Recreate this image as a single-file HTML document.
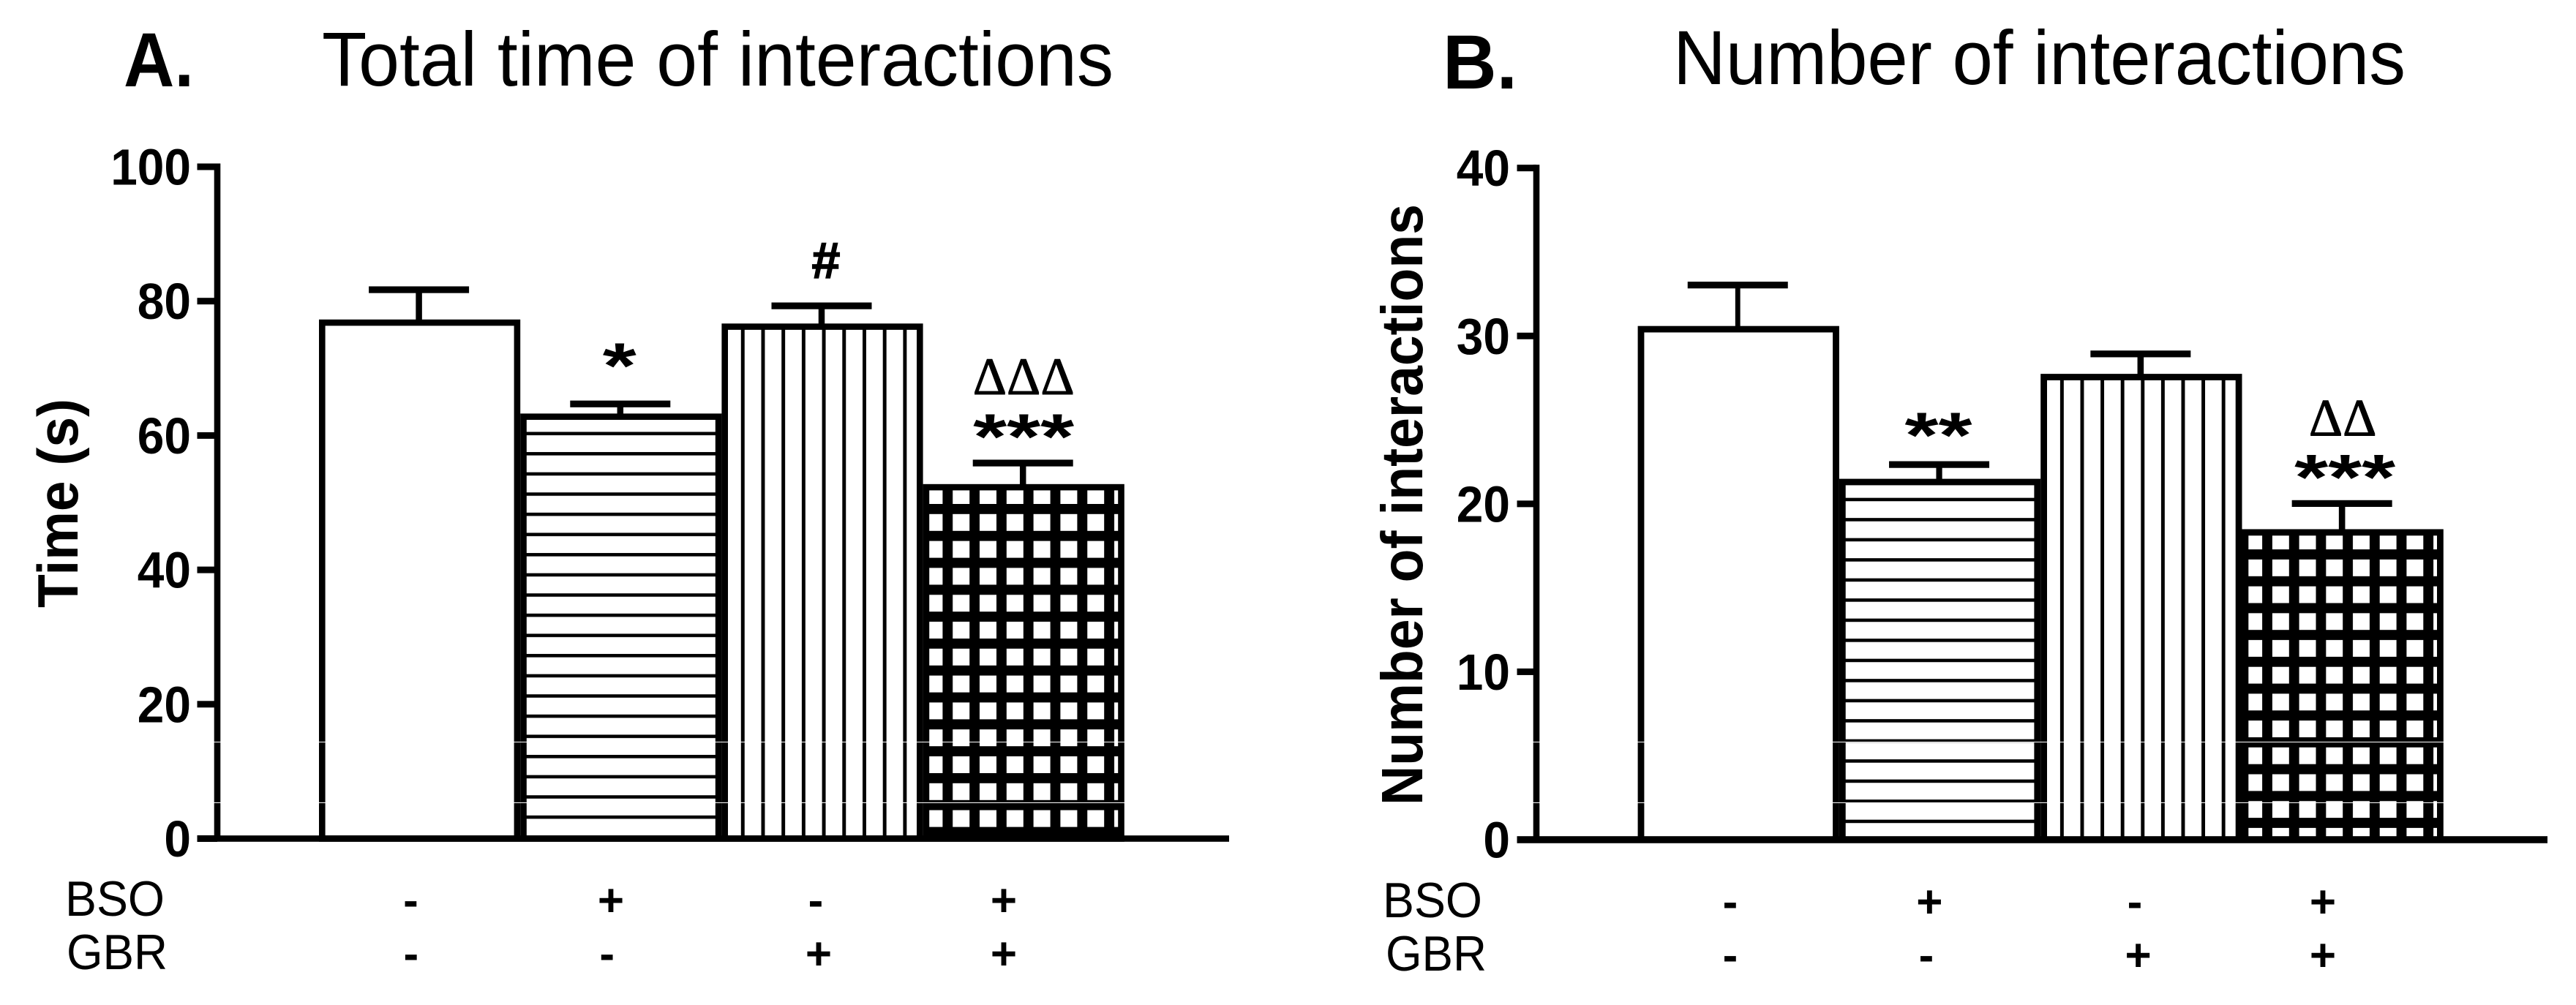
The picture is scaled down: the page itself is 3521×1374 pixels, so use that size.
<!DOCTYPE html>
<html lang="en">
<head>
<meta charset="utf-8">
<title>Total time and number of interactions</title>
<style>
html,body{margin:0;padding:0;background:#fff;width:3521px;height:1374px;overflow:hidden}
svg{display:block;position:absolute;left:0;top:0}
text{font-family:"Liberation Sans",sans-serif;fill:#000}
.b{font-weight:700}
.delta{font-family:"Liberation Serif",serif;stroke:#000;stroke-width:1}
.hash{stroke:#000;stroke-width:1.5}
</style>
</head>
<body>
<svg id="figure" xmlns="http://www.w3.org/2000/svg" width="3521" height="1374" viewBox="0 0 3521 1374">
  <defs>
    <pattern id="hA" patternUnits="userSpaceOnUse" x="0" y="590.45" width="40" height="27.6"><rect width="40" height="4.7" fill="#000"/><rect y="4.7" width="40" height="22.9" fill="#fff"/></pattern>
    <pattern id="hB" patternUnits="userSpaceOnUse" x="0" y="680.65" width="40" height="27.5"><rect width="40" height="4.7" fill="#000"/><rect y="4.7" width="40" height="22.8" fill="#fff"/></pattern>
    <pattern id="vA" patternUnits="userSpaceOnUse" x="1012.8" y="0" width="27.7" height="40"><rect width="5" height="40" fill="#000"/><rect x="5" width="22.7" height="40" fill="#fff"/></pattern>
    <pattern id="vB" patternUnits="userSpaceOnUse" x="2815.9" y="0" width="27.6" height="40"><rect width="5" height="40" fill="#000"/><rect x="5" width="22.6" height="40" fill="#fff"/></pattern>
    <pattern id="gA" patternUnits="userSpaceOnUse" x="1288.4" y="689" width="36.8" height="36.8"><rect width="36.8" height="36.8" fill="#fff"/><rect width="13.8" height="36.8" fill="#000"/><rect width="36.8" height="13.8" fill="#000"/></pattern>
    <pattern id="gB" patternUnits="userSpaceOnUse" x="3092.1" y="751.1" width="36.7" height="36.7"><rect width="36.7" height="36.7" fill="#fff"/><rect width="13.8" height="36.7" fill="#000"/><rect width="36.7" height="13.8" fill="#000"/></pattern>
  </defs>

  <text class="b" x="169" y="118" font-size="105" textLength="96" lengthAdjust="spacingAndGlyphs">A.</text>
  <text x="440" y="117" font-size="105" textLength="1082" lengthAdjust="spacingAndGlyphs">Total time of interactions</text>
  <text class="b" font-size="78" textLength="286" lengthAdjust="spacingAndGlyphs" transform="translate(106 831) rotate(-90)">Time (s)</text>
  <text x="89" y="1252" font-size="68" textLength="136" lengthAdjust="spacingAndGlyphs">BSO</text>
  <text x="91" y="1325" font-size="68" textLength="138" lengthAdjust="spacingAndGlyphs">GBR</text>

  <text class="b" x="1972" y="121" font-size="105" textLength="102" lengthAdjust="spacingAndGlyphs">B.</text>
  <text x="2287" y="115" font-size="105" textLength="1001" lengthAdjust="spacingAndGlyphs">Number of interactions</text>
  <text class="b" font-size="80" textLength="822" lengthAdjust="spacingAndGlyphs" transform="translate(1944 1101) rotate(-90)">Number of interactions</text>
  <text x="1890" y="1254" font-size="68" textLength="136" lengthAdjust="spacingAndGlyphs">BSO</text>
  <text x="1894" y="1327" font-size="68" textLength="138" lengthAdjust="spacingAndGlyphs">GBR</text>
</svg>
<script>
// ---- Data ----
const bsoFlags = ['-', '+', '-', '+'];
const gbrFlags = ['-', '-', '+', '+'];

const timeMeans = [76.8, 62.8, 76.2, 52.3];
const timeErrors = [4.9, 1.9, 3.1, 3.6];
const timeTicks = [0, 20, 40, 60, 80, 100];
const timeSignificance = ['', '*', '#', '***'];
const timeDeltas = ['', '', '', 'ΔΔΔ'];

const countMeans = [30.4, 21.3, 27.55, 18.3];
const countErrors = [2.63, 1.04, 1.38, 1.72];
const countTicks = [0, 10, 20, 30, 40];
const countSignificance = ['', '**', '', '***'];
const countDeltas = ['', '', '', 'ΔΔ'];

// ---- Drawing ----
const NS = 'http://www.w3.org/2000/svg';
const svg = document.getElementById('figure');

function shape(tag, attrs, text) {
  const el = document.createElementNS(NS, tag);
  for (const k in attrs) el.setAttribute(k, attrs[k]);
  if (text !== undefined) el.textContent = text;
  svg.appendChild(el);
  return el;
}

function drawPanel(p) {
  const y = v => p.y0 - (v - 0) * (p.y0 - p.yTop) / p.yMax;
  const left = i => p.barLeft + i * p.barStep;
  const center = i => left(i) + p.barStep / 2;

  p.means.forEach((m, i) => {
    const top = y(m);
    const capY = y(m + p.errors[i]);

    const stem = shape('rect', {x: center(i) - 1 - p.stemW[i] / 2, y: capY, width: p.stemW[i], height: top - capY, fill: '#000'});
    
    

    const cap = shape('rect', {x: center(i) - 1 - p.capHalf, y: capY - 4.6, width: p.capHalf * 2, height: 9.2, fill: '#000'});
    
    

    const bar = shape('rect', {x: left(i) + p.stroke / 2, y: top, width: p.barStep - p.stroke, height: p.y0 - top, fill: p.fills[i], stroke: '#000', 'stroke-width': p.stroke});
    
    

    const sig = p.signif[i];
    if (sig === '#') {
      const hash = shape('text', {x: center(i) + p.signifDx[i], y: capY + p.signifGap[i], 'font-size': 70, 'text-anchor': 'middle', class: 'b hash'}, sig);
      
      
    } else if (sig) {
      const mark = shape('text', {x: center(i) + p.signifDx[i], y: capY + p.signifGap[i], 'font-size': 88, 'text-anchor': 'middle', class: 'b', textLength: sig.length * 46, lengthAdjust: 'spacingAndGlyphs'}, sig);
      
      
    }
    if (p.deltas[i]) {
      const delta = shape('text', {x: center(i) + p.deltaDx, y: capY + p.deltaGap, 'font-size': 72, 'text-anchor': 'middle', class: 'delta'}, p.deltas[i]);
      
      
    }
  });

  const yAxis = shape('rect', {x: p.axisX - p.axisW / 2, y: y(p.yMax) - 4.5, width: p.axisW, height: p.y0 - y(p.yMax) + 4.5, fill: '#000'});
  
  

  const xAxis = shape('rect', {x: p.xStart, y: p.y0 - p.xAxisH / 2, width: p.xEnd - p.xStart, height: p.xAxisH, fill: '#000'});
  
  

  p.ticks.forEach(t => {
    const tick = shape('rect', {x: p.xStart, y: y(t) - 4.5, width: p.axisX - p.xStart, height: 9, fill: '#000'});
    
    

    const s = String(t);
    const label = shape('text', {x: p.tickRight - s.length * 36.6, y: y(t) + 24.5, 'font-size': 70, class: 'b', textLength: s.length * 36.6, lengthAdjust: 'spacingAndGlyphs'}, s);
    
    
  });

  bsoFlags.forEach((f, i) => {
    const el = shape('text', {x: p.bsoX[i], y: p.bsoY, 'font-size': 62, 'text-anchor': 'middle', class: 'b'}, f);
    
    
  });
  gbrFlags.forEach((f, i) => {
    const el = shape('text', {x: p.gbrX[i], y: p.gbrY, 'font-size': 62, 'text-anchor': 'middle', class: 'b'}, f);
    
    
  });

  [1014.5, 1097.5].forEach(ly => {
    const seam = shape('rect', {x: p.seamStart, y: ly - 0.5, width: p.seamEnd - p.seamStart, height: 1, fill: '#fff'});
    
    
  });
}

drawPanel({
  means: timeMeans, errors: timeErrors, ticks: timeTicks, signif: timeSignificance, deltas: timeDeltas,
  yMax: 100, y0: 1146.5, yTop: 228,
  axisX: 297, axisW: 8.6, xStart: 269.5, xEnd: 1680, xAxisH: 8.6, tickRight: 261,
  barLeft: 436, barStep: 275.2, stroke: 8.6, capHalf: 68.5, stemW: [8.5, 8.5, 8.5, 8.5],
  fills: ['#fff', 'url(#hA)', 'url(#vA)', 'url(#gA)'],
  signifDx: [0, -2, 5, 0], signifGap: [0, -22, -38, -6], deltaDx: 0, deltaGap: -94,
  bsoX: [561.5, 835, 1115, 1372], gbrX: [561.8, 829.7, 1119, 1372], bsoY: 1252, gbrY: 1325,
  seamStart: 287, seamEnd: 1538
});

drawPanel({
  means: countMeans, errors: countErrors, ticks: countTicks, signif: countSignificance, deltas: countDeltas,
  yMax: 40, y0: 1148, yTop: 229.7,
  axisX: 2100, axisW: 8.6, xStart: 2073.5, xEnd: 3482, xAxisH: 9.6, tickRight: 2064,
  barLeft: 2238.6, barStep: 275.3, stroke: 8.8, capHalf: 68.5, stemW: [6.8, 8.2, 8.6, 8.6],
  fills: ['#fff', 'url(#hB)', 'url(#vB)', 'url(#gB)'],
  signifDx: [0, -2, 0, 3], signifGap: [0, -10, 0, -6], deltaDx: 0, deltaGap: -93,
  bsoX: [2365, 2637.3, 2918, 3175], gbrX: [2365, 2633, 2922.6, 3175], bsoY: 1254, gbrY: 1327,
  seamStart: 2093, seamEnd: 3340
});
</script>
</body>
</html>
